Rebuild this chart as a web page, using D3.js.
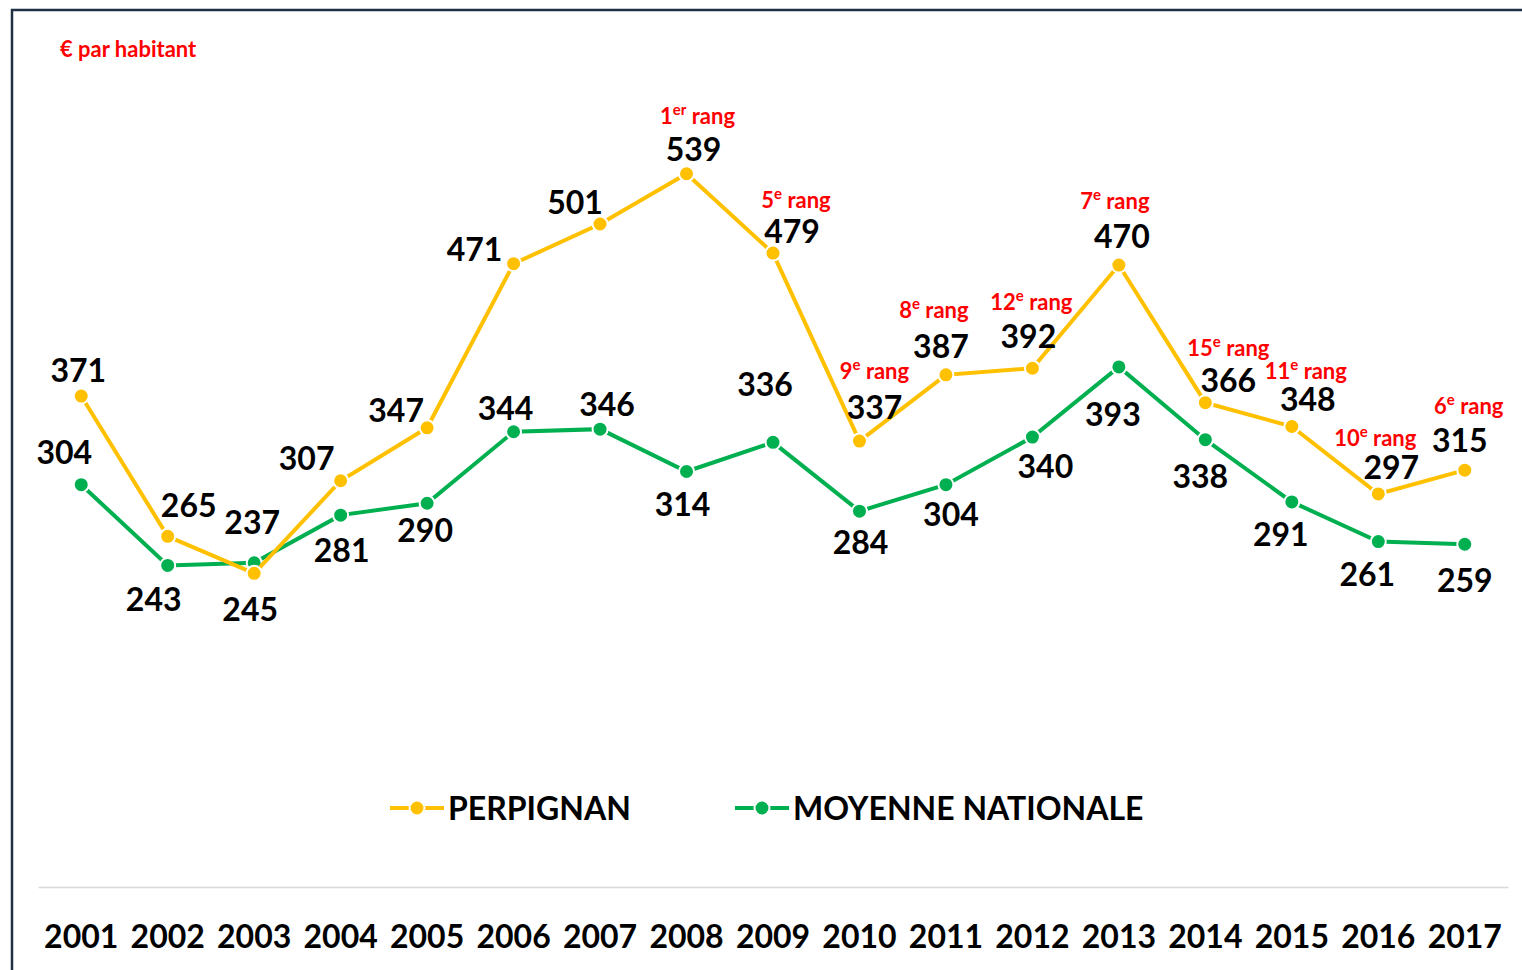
<!DOCTYPE html>
<html>
<head>
<meta charset="utf-8">
<script src="https://cdn.jsdelivr.net/npm/d3@7"></script>
<style>
  body { margin: 0; background: #fff; }
  #chart { width: 1522px; height: 970px; overflow: hidden; }
  text { font-family: Lato, "Open Sans", sans-serif; font-weight: bold; }
</style>
</head>
<body>
<div id="chart"></div>
<script>
// Data
var years = ["2001","2002","2003","2004","2005","2006","2007","2008","2009","2010","2011","2012","2013","2014","2015","2016","2017"];
var perpignan = [371, 265, 237, 307, 347, 471, 501, 539, 479, 337, 387, 392, 470, 366, 348, 297, 315];
var moyenne = [304, 243, 245, 281, 290, 344, 346, 314, 336, 284, 304, 340, 393, 338, 291, 261, 259];
// rang of Perpignan (null = not shown)
var rangs = [null, null, null, null, null, null, null, 1, 5, 9, 8, 12, 7, 15, 11, 10, 6];
var seriesNames = ["PERPIGNAN", "MOYENNE NATIONALE"];

// label placement (offsets from the point)
var perpLabelOff = [[-3,-26],[21,-31],[-2,-51],[-34,-22],[-31,-17],[-39,-14],[-25,-22],[7,-24],[19,-22],[15,-34],[-5,-28],[-4,-32],[3,-29],[23,-22],[16,-27],[13,-26],[-5,-30]];
var moyLabelOff = [[-17,-32],[-14,34],[-4,47],[1,35],[-2,27],[-8,-23],[7,-25],[-4,33],[-8,-58],[1,31],[5,30],[13,29],[-6,48],[-5,37],[-11,33],[-11,33],[0,36]];
var rangLabelOff = [null,null,null,null,null,null,null,[11,-58],[23,-53],[15,-70],[-12,-65],[-1,-66],[-4,-64],[23,-55],[14,-55],[-3,-56],[4,-64]];

var orange = "#FFC000", green = "#00B050", red = "#FF0000";

var svg = d3.select("#chart").append("svg")
    .attr("width", 1522)
    .attr("height", 970);

// frame
svg.append("rect")
   .attr("x", 12).attr("y", 10)
   .attr("width", 1560).attr("height", 1000)
   .attr("fill", "none")
   .attr("stroke", "#1F3046")
   .attr("stroke-width", 2.5);

var x = d3.scaleBand().domain(years).range([38, 1508]).padding(0);
var y = d3.scaleLinear().domain([0, 600]).range([887, 93]);
function cx(d, i) { return x(years[i]) + x.bandwidth() / 2; }

// x axis
var xAxis = d3.axisBottom(x).tickSize(0).tickPadding(38);
var xAxisGroup = svg.append("g")
   .attr("transform", "translate(0,887)")
   .call(xAxis);
xAxisGroup.select(".domain").attr("stroke", "#D9D9D9").attr("stroke-width", 1.5);
xAxisGroup.selectAll("text")
   .style("font-size", "32px")
   .attr("fill", "#000")
   .style("font-family", "Lato, sans-serif")
   .style("font-weight", "bold");

// unit
svg.append("text")
   .attr("x", 60).attr("y", 57)
   .attr("fill", red)
   .style("font-size", "22px")
   .text("€ par habitant");

var line = d3.line()
   .x(function(d, i) { return cx(d, i); })
   .y(function(d) { return y(d); });

function drawSeries(values, color) {
    svg.append("path")
       .datum(values)
       .attr("d", line)
       .attr("fill", "none")
       .attr("stroke", color)
       .attr("stroke-width", 4);
    svg.append("g").selectAll("circle")
       .data(values)
       .enter().append("circle")
       .attr("cx", cx)
       .attr("cy", function(d) { return y(d); })
       .attr("r", 7.5)
       .attr("fill", color)
       .attr("stroke", "#fff")
       .attr("stroke-width", 2);
}
drawSeries(moyenne, green);
drawSeries(perpignan, orange);

function drawLabels(values, offs) {
    svg.append("g").selectAll("text")
       .data(values)
       .enter().append("text")
       .attr("x", function(d, i) { return cx(d, i) + offs[i][0]; })
       .attr("y", function(d, i) { return y(d) + offs[i][1]; })
       .attr("dy", "0.36em")
       .attr("text-anchor", "middle")
       .style("font-size", "32px")
       .attr("fill", "#000")
       .text(function(d) { return d; });
}
drawLabels(perpignan, perpLabelOff);
drawLabels(moyenne, moyLabelOff);

// rang labels
perpignan.forEach(function(v, i) {
    if (rangs[i] == null) return;
    var t = svg.append("text")
       .attr("x", cx(v, i) + rangLabelOff[i][0])
       .attr("y", y(v) + rangLabelOff[i][1])
       .attr("dy", "0.36em")
       .attr("text-anchor", "middle")
       .attr("fill", red)
       .style("font-size", "22px");
    t.append("tspan").text(rangs[i]);
    t.append("tspan").attr("dy", -9).style("font-size", "15px").text(rangs[i] == 1 ? "er" : "e");
    t.append("tspan").attr("dy", 9).text(" rang");
});

// legend
var legendItems = [
    { name: seriesNames[0], color: orange, x: 390 },
    { name: seriesNames[1], color: green, x: 735 }
];
var lg = svg.append("g").selectAll("g")
   .data(legendItems)
   .enter().append("g")
   .attr("transform", function(d) { return "translate(" + d.x + ",808)"; });
lg.append("line")
   .attr("x1", 0).attr("x2", 54)
   .attr("stroke", function(d) { return d.color; })
   .attr("stroke-width", 4);
lg.append("circle")
   .attr("cx", 27).attr("r", 7.5)
   .attr("fill", function(d) { return d.color; })
   .attr("stroke", "#fff").attr("stroke-width", 2);
lg.append("text")
   .attr("x", 58)
   .attr("dy", "0.36em")
   .style("font-size", "32px")
   .attr("fill", "#000")
   .text(function(d) { return d.name; });
</script>
</body>
</html>
